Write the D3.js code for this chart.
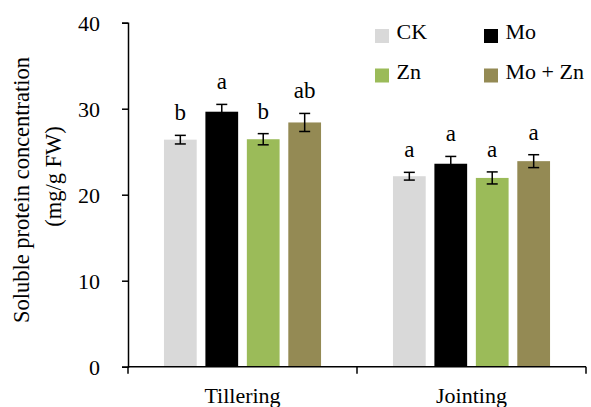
<!DOCTYPE html>
<html>
<head>
<meta charset="utf-8">
<script src="https://cdn.jsdelivr.net/npm/d3@7"></script>
<style>
    body { margin: 0; background: #fff; }
    text { font-family: "Liberation Serif", serif; fill: #000; }
</style>
</head>
<body>
<svg id="chart"></svg>
<script>
// data
const stages = ["Tillering", "Jointing"];
const treatments = ["CK", "Mo", "Zn", "Mo + Zn"];
const colors = ["#d9d9d9", "#000000", "#9bbb59", "#948a54"];
const means = [
    [26.4, 29.65, 26.45, 28.4],   // Tillering
    [22.15, 23.6, 21.95, 23.9]    // Jointing
];
const errors = [
    [0.5, 0.85, 0.65, 1.05],
    [0.45, 0.85, 0.7, 0.75]
];
const letters = [
    ["b", "a", "b", "ab"],
    ["a", "a", "a", "a"]
];
const yTicks = [0, 10, 20, 30, 40];

const width = 591, height = 407;
const fontSize = 22;

const svg = d3.select("#chart")
    .attr("width", width)
    .attr("height", height);

// scales
const y = d3.scaleLinear().domain([0, 40]).range([366.7, 22.7]);
const x0 = d3.scaleBand().domain(stages).range([128, 586]);
const inner = 31.6;
const x1 = d3.scaleBand()
    .domain(treatments)
    .range([inner, x0.bandwidth() - inner])
    .paddingInner(0.21)
    .paddingOuter(0.105);

// bars
const groups = svg.selectAll("g.stage")
    .data(stages)
    .join("g")
    .attr("class", "stage")
    .attr("transform", d => `translate(${x0(d)},0)`);

groups.each(function(stage, si) {
    let g = d3.select(this);
    let rows = treatments.map((t, ti) => ({
        t: t, color: colors[ti], v: means[si][ti], e: errors[si][ti], l: letters[si][ti]
    }));

    g.selectAll("rect")
        .data(rows)
        .join("rect")
        .attr("x", d => x1(d.t))
        .attr("y", d => y(d.v))
        .attr("width", x1.bandwidth())
        .attr("height", d => y(0) - y(d.v))
        .attr("fill", d => d.color);

    // error bars
    let cap = 5.5;
    let eb = g.selectAll("g.err")
        .data(rows)
        .join("g")
        .attr("class", "err");
    eb.append("line")
        .attr("x1", d => x1(d.t) + x1.bandwidth() / 2)
        .attr("x2", d => x1(d.t) + x1.bandwidth() / 2)
        .attr("y1", d => y(d.v - d.e))
        .attr("y2", d => y(d.v + d.e));
    eb.append("line")
        .attr("x1", d => x1(d.t) + x1.bandwidth() / 2 - cap)
        .attr("x2", d => x1(d.t) + x1.bandwidth() / 2 + cap)
        .attr("y1", d => y(d.v + d.e))
        .attr("y2", d => y(d.v + d.e));
    eb.append("line")
        .attr("x1", d => x1(d.t) + x1.bandwidth() / 2 - cap)
        .attr("x2", d => x1(d.t) + x1.bandwidth() / 2 + cap)
        .attr("y1", d => y(d.v - d.e))
        .attr("y2", d => y(d.v - d.e));

    // significance letters
    g.selectAll("text.sig")
        .data(rows)
        .join("text")
        .attr("class", "sig")
        .attr("x", d => x1(d.t) + x1.bandwidth() / 2)
        .attr("y", d => y(d.v + d.e) - 15)
        .attr("text-anchor", "middle")
        .style("font-size", "23px")
        .text(d => d.l);
});

// y axis
const yAxis = svg.append("g")
    .attr("transform", "translate(128,0)")
    .call(d3.axisLeft(y).tickValues(yTicks).tickSize(6).tickPadding(22));
yAxis.selectAll("text")
    .style("font-size", fontSize + "px")
    .style("font-family", "Liberation Serif")
    .attr("dy", "0.34em");

// x axis, ticks on the band edges
const xAxis = svg.append("g")
    .attr("transform", `translate(0,${y(0)})`);
xAxis.append("line")
    .attr("x1", 128).attr("x2", 586);
xAxis.selectAll("line.tick")
    .data([128, ...stages.map(s => x0(s) + x0.bandwidth())])
    .join("line")
    .attr("class", "tick")
    .attr("x1", d => d).attr("x2", d => d)
    .attr("y1", 0).attr("y2", 7);
xAxis.selectAll("text")
    .data(stages)
    .join("text")
    .attr("x", d => x0(d) + x0.bandwidth() / 2)
    .attr("y", 36)
    .attr("text-anchor", "middle")
    .style("font-size", fontSize + "px")
    .text(d => d);

svg.selectAll(".domain, line").attr("stroke", "#000").attr("stroke-width", 1.5);

// y axis title
svg.append("text")
    .attr("transform", "translate(29,190) rotate(-90)")
    .attr("text-anchor", "middle")
    .style("font-size", "22.5px")
    .text("Soluble protein concentration");
svg.append("text")
    .attr("transform", "translate(61,176.5) rotate(-90)")
    .attr("text-anchor", "middle")
    .style("font-size", "22.5px")
    .text("(mg/g FW)");

// legend, two columns
const legend = svg.selectAll("g.legend")
    .data(treatments)
    .join("g")
    .attr("class", "legend")
    .attr("transform", (d, i) => `translate(${375 + (i % 2) * 109},${29 + Math.floor(i / 2) * 39.5})`);
legend.append("rect")
    .attr("width", 14)
    .attr("height", 14)
    .attr("fill", (d, i) => colors[i]);
legend.append("text")
    .attr("x", 21.5)
    .attr("y", 10)
    .style("font-size", fontSize + "px")
    .text(d => d);
</script>
</body>
</html>
